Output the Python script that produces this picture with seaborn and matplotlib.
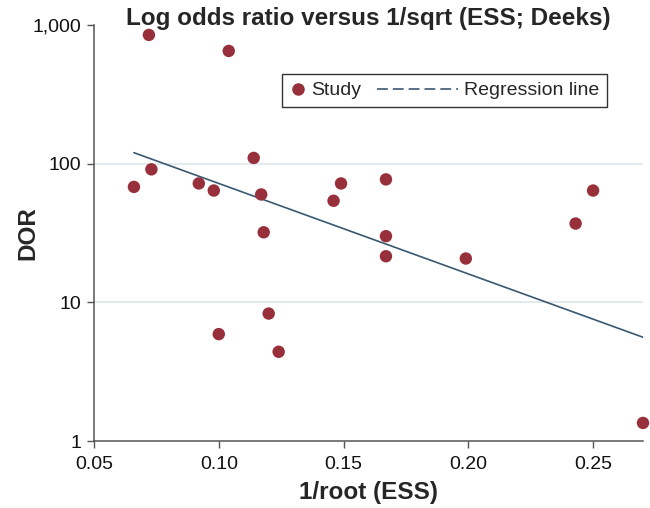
import matplotlib
matplotlib.use("Agg")
import matplotlib.pyplot as plt
import seaborn as sns
from matplotlib.lines import Line2D
from matplotlib.legend_handler import HandlerLine2D
from matplotlib.ticker import NullLocator

# study points: 1/sqrt(ESS) and diagnostic odds ratio
inv_sqrt_ess = [0.072, 0.104, 0.066, 0.073, 0.092, 0.098, 0.114, 0.117, 0.146, 0.149,
                0.118, 0.167, 0.167, 0.120, 0.100, 0.124, 0.167, 0.199, 0.243, 0.250, 0.270]
dor = [848, 650, 68, 91, 72, 64, 110, 60, 54, 72,
       32, 30, 21.5, 8.3, 5.9, 4.4, 77, 20.7, 37, 64, 1.35]

# end points of the fitted regression line
reg_x = [0.066, 0.270]
reg_dor = [120, 5.6]

xticks = [0.05, 0.10, 0.15, 0.20, 0.25]
yticks = [1, 10, 100, 1000]
ytick_labels = ["1", "10", "100", "1,000"]

point_color = "#97303a"
line_color = "#3a5870"


class LongDashHandler(HandlerLine2D):
    # legend sample line that reaches further left than the (short) handle box
    def create_artists(self, legend, orig_handle, xdescent, ydescent,
                       width, height, fontsize, trans):
        y = (height - ydescent) / 2
        line = Line2D([-xdescent - 3.4 * fontsize, width - xdescent], [y, y])
        self.update_prop(line, orig_handle, legend)
        line.set_transform(trans)
        return [line]


sns.set_theme(style="ticks")
plt.rcParams["font.family"] = ["Liberation Sans", "DejaVu Sans"]

fig = plt.figure(figsize=(6.5, 5.08), dpi=100)
ax = fig.add_axes([94 / 650, 67 / 508, 549 / 650, 416 / 508])
ax.set_yscale("log")

for y in [10, 100]:
    ax.axhline(y, color="#e3eaed", lw=1.4, zorder=0)

sns.lineplot(x=reg_x, y=reg_dor, ax=ax, color=line_color, lw=1.2, zorder=2)
sns.scatterplot(x=inv_sqrt_ess, y=dor, ax=ax, color=point_color, s=80,
                edgecolor="none", zorder=3, clip_on=False)

ax.set_xlim(0.05, 0.27)
ax.set_ylim(1, 1000)
ax.set_xticks(xticks)
ax.set_xticklabels([f"{t:.2f}" for t in xticks])
ax.set_yticks(yticks)
ax.set_yticklabels(ytick_labels)
ax.yaxis.set_minor_locator(NullLocator())

sns.despine(ax=ax)
for side in ["left", "bottom"]:
    ax.spines[side].set_color("#555555")
    ax.spines[side].set_linewidth(1.1)
ax.tick_params(axis="both", direction="out", length=5, width=1, color="#555555",
               labelsize=14, labelcolor="#111111", pad=4)
ax.tick_params(axis="x", pad=6)

ax.set_xlabel("1/root (ESS)", fontsize=17.5, fontweight="bold")
ax.set_ylabel("DOR", fontsize=17.5, fontweight="bold")
ax.xaxis.set_label_coords(0.5, -0.097)
ax.yaxis.set_label_coords(-0.10, 0.5)
fig.text(368 / 650, 1 - 25 / 508, "Log odds ratio versus 1/sqrt (ESS; Deeks)",
         ha="center", va="baseline", fontsize=17.5, fontweight="bold")

study_h = Line2D([], [], ls="none", marker="o", markersize=9,
                 color=point_color, markeredgecolor="none")
reg_h = Line2D([], [], color=line_color, lw=1.2, ls=(0, (6.5, 3)))
leg = ax.legend([study_h, reg_h], ["Study", "Regression line"], ncol=2,
                loc="upper left", bbox_to_anchor=(282 / 650, 1 - 74 / 508),
                bbox_transform=fig.transFigure, borderaxespad=0, fontsize=14,
                handlelength=0.8, handletextpad=0.3, columnspacing=4.2,
                borderpad=0.4, frameon=True, fancybox=False, edgecolor="black",
                handler_map={reg_h: LongDashHandler()})
leg.get_frame().set_linewidth(1.0)

fig.savefig("out.png", dpi=100)
